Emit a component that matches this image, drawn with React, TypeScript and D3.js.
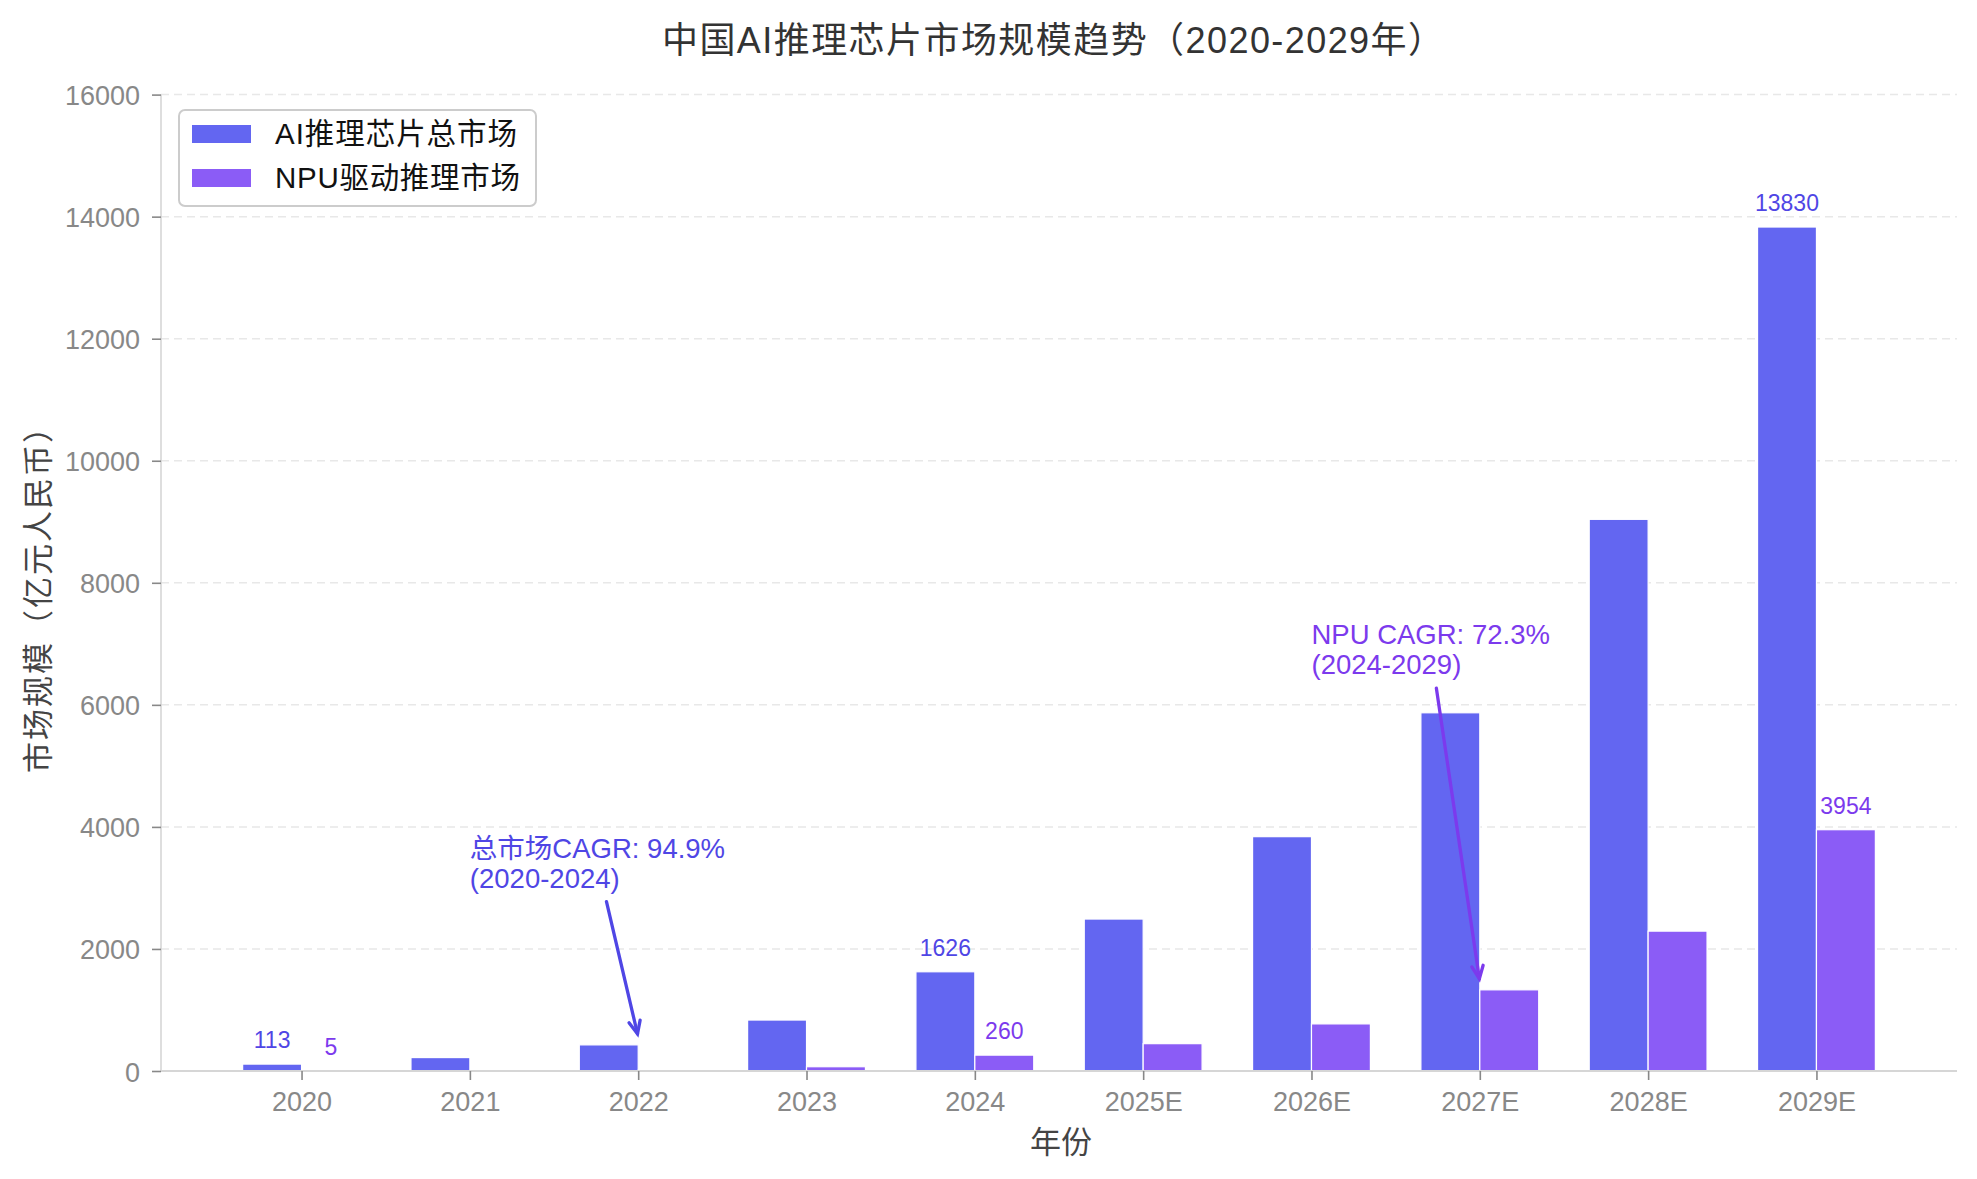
import { useEffect, useRef } from 'react';
import * as d3 from 'd3';

// 数据
const years = ['2020', '2021', '2022', '2023', '2024', '2025E', '2026E', '2027E', '2028E', '2029E'];
const totalMarket = [113, 220, 428, 835, 1626, 2490, 3840, 5870, 9040, 13830];
const npuMarket = [5, 8, 14, 70, 260, 448, 772, 1330, 2292, 3954];
const labeledYears = ['2020', '2024', '2029E'];
const yTicks = [0, 2000, 4000, 6000, 8000, 10000, 12000, 14000, 16000];
const seriesNames = ['AI推理芯片总市场', 'NPU驱动推理市场'];
const seriesColors = ['#6366F1', '#8B5CF6'];
const labelColors = ['#4F46E5', '#7C3AED'];

const annotations = [
  { lines: ['总市场CAGR: 94.9%', '(2020-2024)'], textAt: [1, 3000], target: [2, 560], color: '#4F46E5' },
  { lines: ['NPU CAGR: 72.3%', '(2024-2029)'], textAt: [6, 6500], target: [7, 1463], color: '#7C3AED' }
];

const W = 1977;
const H = 1179;
const FONT = '"Liberation Sans", Arial, "Noto Sans CJK SC", sans-serif';

export default function App() {
  const svgRef = useRef<SVGSVGElement>(null);

  useEffect(() => {
    document.body.style.margin = '0';
    if (!svgRef.current) return;
    const svg = d3.select(svgRef.current);
    svg.selectAll('*').remove();

    const plot = { left: 161, right: 1957, top: 94.6, bottom: 1071 };
    const barWidth = 0.35;

    const x = d3.scaleLinear().domain([-0.835, 9.835]).range([plot.left, plot.right]);
    const y = d3.scaleLinear().domain([0, 16000]).range([plot.bottom, plot.top]);

    svg.append('rect').attr('width', W).attr('height', H).attr('fill', '#fff');

    // grid
    svg.append('g')
      .selectAll('line')
      .data(yTicks)
      .enter()
      .append('line')
      .attr('x1', plot.left)
      .attr('x2', plot.right)
      .attr('y1', (d) => y(d))
      .attr('y2', (d) => y(d))
      .attr('stroke', '#e8e8e8')
      .attr('stroke-width', 1.5)
      .attr('stroke-dasharray', '8,5');

    // bars
    const series = [totalMarket, npuMarket];
    series.forEach((vals, s) => {
      svg.append('g')
        .selectAll('rect')
        .data(vals)
        .enter()
        .append('rect')
        .attr('x', (_, i) => x(i + (s === 0 ? -barWidth : 0)))
        .attr('y', (d) => y(d))
        .attr('width', x(barWidth) - x(0))
        .attr('height', (d) => y(0) - y(d))
        .attr('fill', seriesColors[s])
        .attr('stroke', '#fff')
        .attr('stroke-width', 1.2);
    });

    // spines
    svg.append('line')
      .attr('x1', plot.left).attr('x2', plot.left)
      .attr('y1', plot.top).attr('y2', plot.bottom)
      .attr('stroke', '#d6d6d6').attr('stroke-width', 1.6);
    svg.append('line')
      .attr('x1', plot.left).attr('x2', plot.right)
      .attr('y1', plot.bottom).attr('y2', plot.bottom)
      .attr('stroke', '#d6d6d6').attr('stroke-width', 2);

    // axes
    const yAxis = svg.append('g')
      .attr('transform', `translate(${plot.left},0)`)
      .call(d3.axisLeft(y).tickValues(yTicks).tickSize(9).tickPadding(12).tickFormat((d) => String(d)));
    const xAxis = svg.append('g')
      .attr('transform', `translate(0,${plot.bottom})`)
      .call(
        d3.axisBottom(x)
          .tickValues(d3.range(years.length))
          .tickSize(9)
          .tickPadding(12)
          .tickFormat((d) => years[Number(d)])
      );
    [yAxis, xAxis].forEach((a) => {
      a.select('.domain').remove();
      a.selectAll('.tick line').attr('stroke', '#888').attr('stroke-width', 1.6);
      a.selectAll('.tick text')
        .attr('fill', '#888')
        .attr('font-size', 27)
        .attr('font-family', FONT);
    });
    yAxis.selectAll('.tick text').attr('dy', '0.37em');

    // value labels
    series.forEach((vals, s) => {
      svg.append('g')
        .selectAll('text')
        .data(years.map((yr, i) => ({ yr, i, v: vals[i] })).filter((d) => labeledYears.includes(d.yr)))
        .enter()
        .append('text')
        .attr('x', (d) => x(d.i + (s === 0 ? -barWidth / 2 : barWidth / 2)))
        .attr('y', (d) => y(d.v) - 16)
        .attr('text-anchor', 'middle')
        .attr('font-size', 23)
        .attr('font-family', FONT)
        .attr('fill', labelColors[s])
        .text((d) => String(d.v));
    });

    // annotations
    annotations.forEach((a) => {
      const fs = 27.5;
      const lh = 30;
      const tx = x(a.textAt[0]);
      const lastBase = y(a.textAt[1]);
      const t = svg.append('text')
        .attr('font-size', fs)
        .attr('font-family', FONT)
        .attr('fill', a.color);
      a.lines.forEach((line, k) => {
        t.append('tspan')
          .attr('x', tx)
          .attr('y', lastBase - (a.lines.length - 1 - k) * lh)
          .text(line);
      });
      const bb = (t.node() as SVGTextElement).getBBox();
      const cx = bb.x + bb.width / 2;
      const cy = bb.y + bb.height / 2;
      const px = x(a.target[0]);
      const py = y(a.target[1]);
      // start where the line leaves the text box
      const tEdge = (bb.y + bb.height - cy) / (py - cy);
      const sx = cx + (px - cx) * tEdge;
      const sy = cy + (py - cy) * tEdge;
      const ang = Math.atan2(py - sy, px - sx);
      const len = Math.hypot(px - sx, py - sy);
      const start = [sx + Math.cos(ang) * 8, sy + Math.sin(ang) * 8];
      const tip = [sx + Math.cos(ang) * (len - 3), sy + Math.sin(ang) * (len - 3)];
      svg.append('line')
        .attr('x1', start[0]).attr('y1', start[1])
        .attr('x2', tip[0]).attr('y2', tip[1])
        .attr('stroke', a.color)
        .attr('stroke-width', 3.3)
        .attr('stroke-linecap', 'round');
      const hl = 14;
      const hw = 0.42;
      const wing = (sgn: number) => [
        tip[0] - hl * Math.cos(ang + sgn * hw),
        tip[1] - hl * Math.sin(ang + sgn * hw)
      ];
      const w1 = wing(1);
      const w2 = wing(-1);
      svg.append('path')
        .attr('d', `M${w1[0]},${w1[1]}L${tip[0]},${tip[1]}L${w2[0]},${w2[1]}`)
        .attr('fill', 'none')
        .attr('stroke', a.color)
        .attr('stroke-width', 3.3)
        .attr('stroke-linecap', 'round')
        .attr('stroke-linejoin', 'miter');
    });

    // legend
    const lg = svg.append('g');
    lg.append('rect')
      .attr('x', 179).attr('y', 110)
      .attr('width', 357).attr('height', 96)
      .attr('rx', 6)
      .attr('fill', '#fff').attr('fill-opacity', 0.85)
      .attr('stroke', '#cccccc').attr('stroke-width', 2);
    const legendWidths = [242, 245];
    seriesNames.forEach((name, k) => {
      const cy = 134 + k * 44;
      lg.append('rect')
        .attr('x', 192).attr('y', cy - 9)
        .attr('width', 59).attr('height', 18)
        .attr('fill', seriesColors[k]);
      lg.append('text')
        .attr('x', 275).attr('y', cy + 10)
        .attr('font-size', 29.5)
        .attr('font-family', FONT)
        .attr('fill', '#111')
        .attr('textLength', legendWidths[k])
        .attr('lengthAdjust', 'spacing')
        .text(name);
    });

    // title & axis labels
    svg.append('text')
      .attr('x', 662)
      .attr('y', 53)
      .attr('font-size', 36)
      .attr('font-family', FONT)
      .attr('fill', '#333')
      .attr('textLength', 782)
      .attr('lengthAdjust', 'spacing')
      .text('中国AI推理芯片市场规模趋势（2020-2029年）');
    svg.append('text')
      .attr('x', 1061)
      .attr('y', 1153)
      .attr('text-anchor', 'middle')
      .attr('font-size', 31)
      .attr('font-family', FONT)
      .attr('fill', '#444')
      .text('年份');
    svg.append('text')
      .attr('transform', `translate(49,773) rotate(-90)`)
      .attr('font-size', 31)
      .attr('font-family', FONT)
      .attr('fill', '#444')
      .attr('textLength', 361)
      .attr('lengthAdjust', 'spacing')
      .text('市场规模（亿元人民币）');
  }, []);

  return <svg ref={svgRef} width={W} height={H} style={{ display: 'block' }} />;
}
